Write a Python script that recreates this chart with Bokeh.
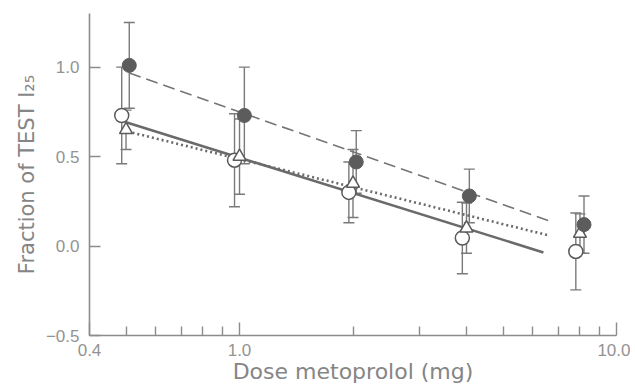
import numpy as np
from bokeh.plotting import figure
from bokeh.models import ColumnDataSource, Whisker, TeeHead, FixedTicker
from bokeh.embed import file_html
from bokeh.resources import INLINE

# ---- data ----
x_ticks = [0.4, 1.0, 10.0]
x_tick_labels = ["0.4", "1.0", "10.0"]
x_minor = [0.5, 0.6, 0.7, 0.8, 0.9, 2, 3, 4, 5, 6, 7, 8, 9]
y_ticks = [-0.5, 0.0, 0.5, 1.0]
y_tick_labels = ["\u22120.5", "0.0", "0.5", "1.0"]

filled_x = [0.51, 1.03, 2.04, 4.07, 8.2]
filled_y = [1.01, 0.73, 0.47, 0.28, 0.12]
filled_err = [0.24, 0.27, 0.175, 0.15, 0.16]

open_x = [0.487, 0.97, 1.95, 3.9, 7.8]
open_y = [0.73, 0.48, 0.30, 0.045, -0.03]
open_err = [0.27, 0.26, 0.17, 0.20, 0.215]

tri_x = [0.5, 1.0, 2.0, 4.0, 8.0]
tri_y = [0.65, 0.50, 0.35, 0.10, 0.07]
tri_err = [0.11, 0.21, 0.19, 0.14, 0.11]

# regression lines: value at 1 mg, slope per decade, dose range
fit_filled = dict(a=0.75, b=-0.742, x0=0.51, x1=6.8)
fit_open = dict(a=0.494, b=-0.657, x0=0.50, x1=6.4)
fit_tri = dict(a=0.486, b=-0.52, x0=0.52, x1=6.6)

AX = "#8c8c8c"
TICKFONT = "Liberation Sans"
LABFONT = "DejaVu Sans"

p = figure(width=630, height=389, x_axis_type="log", x_range=(0.4, 10), y_range=(-0.5, 1.3),
           output_backend="svg", toolbar_location=None,
           min_border_left=89, min_border_right=14, min_border_top=13, min_border_bottom=54)
p.outline_line_color = None
p.xgrid.visible = False
p.ygrid.visible = False
p.background_fill_color = "white"
p.border_fill_color = "white"

def fit_line(f, **kw):
    xs = np.array([f["x0"], f["x1"]])
    ys = f["a"] + f["b"] * np.log10(xs)
    p.line(xs, ys, **kw)

fit_line(fit_filled, line_color="#757575", line_width=1.6, line_dash="12 6")
fit_line(fit_open, line_color="#6a6a6a", line_width=2.6)
fit_line(fit_tri, line_color="#6a6a6a", line_width=2.6, line_dash="2 3")

def errbars(xs, ys, es):
    src = ColumnDataSource(dict(x=xs, lo=[y - e for y, e in zip(ys, es)], hi=[y + e for y, e in zip(ys, es)]))
    w = Whisker(source=src, base="x", lower="lo", upper="hi", line_color="#7a7a7a", line_width=1.4,
                upper_head=TeeHead(size=11, line_color="#7a7a7a", line_width=1.4),
                lower_head=TeeHead(size=11, line_color="#7a7a7a", line_width=1.4))
    p.add_layout(w)

errbars(open_x, open_y, open_err)
errbars(tri_x, tri_y, tri_err)
errbars(filled_x, filled_y, filled_err)

p.scatter(open_x, open_y, marker="circle", size=14, fill_color="white", line_color="#5a5a5a", line_width=1.5)
p.scatter(tri_x, tri_y, marker="triangle", size=13, fill_color="white", line_color="#5a5a5a", line_width=1.5)
p.scatter(filled_x, filled_y, marker="circle", size=14, fill_color="#5c5c5c", line_color="#5c5c5c", line_width=1)

# axes styling
p.xaxis.ticker = FixedTicker(ticks=x_ticks, minor_ticks=x_minor)
p.xaxis.major_label_overrides = {t: l for t, l in zip(x_ticks, x_tick_labels)}
p.yaxis.ticker = FixedTicker(ticks=y_ticks, minor_ticks=[])
p.yaxis.major_label_overrides = {t: l for t, l in zip(y_ticks, y_tick_labels)}

for ax in (p.xaxis[0], p.yaxis[0]):
    ax.axis_line_color = AX
    ax.axis_line_width = 1.6
    ax.major_tick_line_color = AX
    ax.major_tick_line_width = 1.4
    ax.minor_tick_line_color = AX
    ax.minor_tick_line_width = 1.4
    ax.major_tick_out = 0
    ax.minor_tick_out = 0
    ax.major_label_text_color = "#939393"
    ax.major_label_text_font = TICKFONT
    ax.major_label_text_font_size = "17px"
    ax.axis_label_text_color = "#858585"
    ax.axis_label_text_font = LABFONT
    ax.axis_label_text_font_style = "normal"

p.xaxis.axis_label_text_font_size = "22px"
p.yaxis.axis_label_text_font_size = "21px"
p.xaxis.major_tick_in = 13
p.xaxis.minor_tick_in = 9
p.yaxis.major_tick_in = 11
p.yaxis.minor_tick_in = 0
p.xaxis.major_label_standoff = 8
p.yaxis.major_label_standoff = 10
p.xaxis.axis_label = "Dose metoprolol (mg)"
p.yaxis.axis_label = "Fraction of TEST I\u2082\u2085"
p.xaxis.axis_label_standoff = 0
p.yaxis.axis_label_standoff = 4

open("out.html", "w").write(file_html(p, INLINE))
